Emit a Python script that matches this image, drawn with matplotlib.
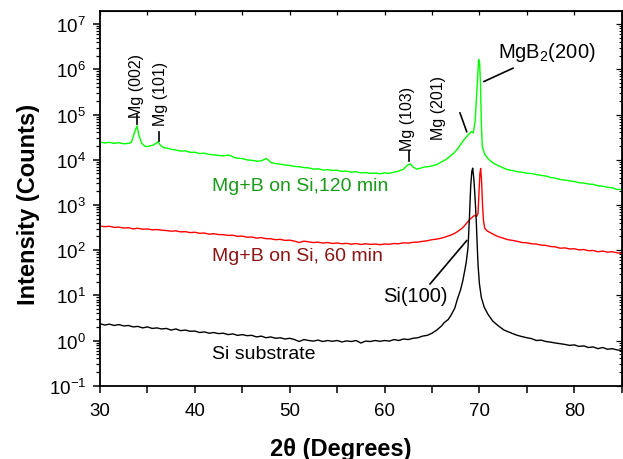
import matplotlib
matplotlib.use("Agg")
import matplotlib.pyplot as plt
from matplotlib import font_manager as fm
from matplotlib.ticker import LogLocator, NullFormatter, MultipleLocator, LogFormatterSciNotation

plt.rcParams['font.family'] = ['Liberation Sans', 'DejaVu Sans']
plt.rcParams['mathtext.default'] = 'regular'

# ---------------- data ----------------
si_x = [30, 30.5, 31, 31.5, 32, 32.5, 33, 33.5, 34, 34.5, 35, 35.5, 36, 36.5, 37, 37.5, 38, 38.5, 39, 39.5,
        40, 40.5, 41, 41.5, 42, 42.5, 43, 43.5, 44, 44.5, 45, 45.5, 46, 46.5, 47, 47.5, 48, 48.5, 49, 49.5,
        50, 50.5, 51, 51.5, 52, 52.5, 53, 53.5, 54, 54.5, 55, 55.5, 56, 56.5, 57, 57.5, 58, 58.5, 59, 59.5,
        60, 60.5, 61, 61.5, 62, 62.5, 63, 63.5, 64, 64.5, 65, 65.5, 66, 66.3, 66.7, 67, 67.4, 67.7, 68, 68.25,
        68.45, 68.6, 68.8, 68.95, 69.08, 69.2, 69.29, 69.4, 69.5, 69.6, 69.68, 69.78, 69.86, 70.0, 70.2, 70.5,
        70.9, 71.4, 72.0, 72.6, 73.4, 74, 74.5, 75, 75.5, 76, 76.5, 77, 77.5, 78, 78.5, 79, 79.5, 80, 80.5,
        81, 81.5, 82, 82.5, 83, 83.5, 84, 84.5, 85]
si_y = [2.35, 2.2, 2.3, 2.15, 2.25, 2.1, 2.15, 2.0, 2.05, 1.9, 2.0, 1.85, 1.9, 1.8, 1.85, 1.7, 1.8, 1.65, 1.7, 1.6,
        1.62, 1.5, 1.55, 1.45, 1.5, 1.42, 1.45, 1.35, 1.4, 1.3, 1.35, 1.28, 1.3, 1.2, 1.25, 1.15, 1.2, 1.12, 1.15, 1.08,
        1.12, 1.05, 0.95, 1.05, 1.0, 0.97, 1.02, 0.95, 1.0, 0.96, 1.0, 0.93, 0.98, 0.95, 1.0, 0.88, 0.97, 0.95, 1.0, 0.96,
        1.0, 0.97, 1.05, 1.0, 1.08, 1.05, 1.12, 1.15, 1.25, 1.3, 1.45, 1.7, 2.1, 2.5, 2.9, 3.6, 5.2, 8.5, 13, 21,
        35, 52, 115, 540, 2600, 5500, 6500, 4000, 2000, 850, 380, 110, 45, 18, 9, 5.5,
        3.8, 2.7, 2.1, 1.7, 1.45, 1.3, 1.22, 1.15, 1.1, 1.0, 1.02, 0.95, 0.92, 0.88, 0.85, 0.82, 0.78, 0.8, 0.74,
        0.76, 0.7, 0.72, 0.66, 0.7, 0.64, 0.66, 0.62, 0.6]

m60_x = [30, 30.5, 31, 31.5, 32, 32.5, 33, 33.5, 34, 34.5, 35, 35.5, 36, 36.5, 37, 37.5, 38, 38.5, 39, 39.5,
         40, 40.5, 41, 41.5, 42, 42.5, 43, 43.5, 44, 44.5, 45, 45.5, 46, 46.5, 47, 47.5, 48, 48.5, 49, 49.5,
         50, 50.5, 51, 51.5, 52, 52.5, 53, 53.5, 54, 54.5, 55, 55.5, 56, 56.5, 57, 57.5, 58, 58.5, 59, 59.5,
         60, 60.5, 61, 61.5, 62, 62.5, 63, 63.5, 64, 64.5, 65, 65.5, 66, 66.5, 67, 67.4, 67.8, 68.1, 68.4, 68.7,
         69.0, 69.25, 69.5, 69.7, 69.85, 69.95, 70.05, 70.13, 70.22, 70.32, 70.42, 70.56, 70.8, 71.2, 71.6, 72.0,
         72.5, 73, 73.5, 74, 74.5, 75, 75.5, 76, 76.5, 77, 77.5, 78, 78.5, 79, 79.5, 80, 80.5, 81, 81.5, 82,
         82.5, 83, 83.5, 84, 84.5, 85]
m60_y = [340, 330, 336, 318, 322, 308, 313, 295, 304, 290, 294, 281, 285, 276, 271, 262, 267, 253, 256, 244,
         248, 235, 239, 225, 230, 221, 219, 212, 213, 202, 204, 193, 195, 184, 189, 179, 178, 170, 173, 164,
         166, 158, 147, 158, 152, 147, 150, 143, 147, 140, 144, 138, 141, 135, 140, 133, 138, 134, 136, 132,
         136, 135, 140, 138, 145, 143, 149, 150, 156, 161, 170, 175, 184, 198, 216, 235, 267, 295, 340, 405,
         480, 535, 590, 555, 640, 1800, 4900, 6400, 3600, 1100, 460, 305, 267, 240, 216, 198,
         184, 170, 164, 156, 147, 145, 138, 136, 129, 127, 120, 118, 110, 112, 106, 107, 101, 103, 97, 98,
         92, 95, 90, 92, 87, 85]

m120_x = [30, 30.5, 31, 31.5, 32, 32.5, 33, 33.3, 33.6, 33.9, 34.1, 34.4, 34.8, 35.2, 35.6, 35.9, 36.1, 36.4, 36.8, 37.2,
          37.6, 38, 38.5, 39, 39.5, 40, 40.5, 41, 41.5, 42, 42.5, 43, 43.5, 43.8, 44.2, 44.5, 45, 45.5, 46, 46.5,
          47, 47.5, 47.8, 48, 48.5, 49, 49.5, 50, 50.5, 51, 51.5, 52, 52.5, 53, 53.5, 54, 54.5, 55, 55.5, 56,
          56.5, 57, 57.5, 58, 58.5, 59, 59.5, 60, 60.5, 61, 61.5, 62, 62.4, 62.7, 63, 63.4, 63.8, 64.2, 64.6, 65,
          65.5, 66, 66.5, 67, 67.4, 67.8, 68.1, 68.4, 68.7, 68.97, 69.15, 69.35, 69.55, 69.7, 69.82, 69.92, 70.02, 70.12,
          70.2, 70.3, 70.56, 70.9, 71.3, 71.6, 72.0, 72.5, 73, 73.5, 74, 74.5, 75, 75.5, 76, 76.5, 77, 77.5,
          78, 78.5, 79, 79.5, 80, 80.5, 81, 81.5, 82, 82.5, 83, 83.5, 84, 84.5, 85]
m120_y = [2.45e4, 2.35e4, 2.42e4, 2.3e4, 2.38e4, 2.25e4, 2.3e4, 2.4e4, 3.8e4, 5.6e4, 3.5e4, 2.3e4, 1.95e4, 2.0e4, 2.1e4, 2.3e4, 2.5e4, 2.05e4, 1.82e4, 1.78e4,
          1.68e4, 1.64e4, 1.55e4, 1.57e4, 1.46e4, 1.46e4, 1.37e4, 1.39e4, 1.31e4, 1.28e4, 1.24e4, 1.22e4, 1.26e4, 1.22e4, 1.11e4, 1.08e4, 1.06e4, 9.9e3, 9.7e3, 9.3e3,
          9.4e3, 1.06e4, 9.7e3, 8.7e3, 8.2e3, 8.0e3, 7.6e3, 7.5e3, 7.1e3, 7.0e3, 6.7e3, 6.6e3, 6.2e3, 6.3e3, 5.9e3, 6.0e3, 5.8e3, 5.85e3, 5.5e3, 5.6e3,
          5.3e3, 5.4e3, 5.1e3, 5.2e3, 5.0e3, 5.05e3, 4.9e3, 5.1e3, 5.0e3, 5.3e3, 5.6e3, 6.2e3, 7.5e3, 8.1e3, 6.9e3, 6.2e3, 6.5e3, 6.9e3, 7.0e3, 7.3e3,
          7.8e3, 8.9e3, 1.02e4, 1.24e4, 1.46e4, 1.85e4, 2.3e4, 2.8e4, 3.35e4, 3.8e4, 4.2e4, 3.9e4, 7e4, 2.6e5, 7.8e5, 1.65e6, 1.4e6, 4.3e5,
          7e4, 1.95e4, 1.32e4, 1.06e4, 8.9e3, 8.1e3, 7.4e3, 6.6e3, 6.0e3, 5.75e3, 5.4e3, 5.3e3, 5.0e3, 4.95e3, 4.7e3, 4.5e3, 4.35e3, 4.05e3,
          3.9e3, 3.65e3, 3.55e3, 3.4e3, 3.3e3, 3.1e3, 3.05e3, 2.9e3, 2.85e3, 2.65e3, 2.6e3, 2.45e3, 2.4e3, 2.2e3, 2.2e3]

series_labels = ["Mg+B on Si,120 min", "Mg+B on Si, 60 min", "Si substrate"]
peak_labels = ["Mg (002)", "Mg (101)", "Mg (103)", "Mg (201)"]
xticks = [30, 40, 50, 60, 70, 80]

# condensed font for the small rotated peak labels, if one is installed
avail = {f.name for f in fm.fontManager.ttflist}
if 'Liberation Sans Narrow' in avail:
    pk_font = dict(family=['Liberation Sans Narrow', 'Liberation Sans'], fontsize=13.5)
else:
    pk_font = dict(family=['Liberation Sans', 'DejaVu Sans'], fontsize=11.5)

# ---------------- figure ----------------
fig = plt.figure(figsize=(6.23, 4.60), dpi=100)
ax = fig.add_axes([100/623, 1-386.7/460, 521.7/623, 374.7/460])

ax.plot(m120_x, m120_y, color='#00ff00', lw=1.0)
ax.plot(m60_x, m60_y, color='#ff0000', lw=1.0)
ax.plot(si_x, si_y, color='black', lw=1.0)

ax.set_yscale('log')
ax.set_xlim(30, 85)
ax.set_ylim(0.1, 1.95e7)

ax.set_xticks(xticks)
ax.xaxis.set_minor_locator(MultipleLocator(5))
ax.yaxis.set_major_locator(LogLocator(base=10, numticks=20))
ax.yaxis.set_major_formatter(LogFormatterSciNotation())
ax.yaxis.set_minor_locator(LogLocator(base=10, subs=range(2, 10), numticks=20))
ax.yaxis.set_minor_formatter(NullFormatter())

ax.tick_params(which='major', direction='out', length=5, width=1.1, labelsize=13.5, pad=5)
ax.tick_params(axis='x', which='major', pad=7)
ax.tick_params(which='minor', direction='out', length=3, width=0.9)
ax.tick_params(axis='x', which='minor', length=5, width=1.1)

for sp in ax.spines.values():
    sp.set_linewidth(1.3)

top = ax.secondary_xaxis('top')
top.set_xticks(xticks)
top.xaxis.set_minor_locator(MultipleLocator(5))
top.tick_params(which='both', direction='in', length=3, width=0.9, labeltop=False)
right = ax.secondary_yaxis('right')
right.yaxis.set_major_locator(LogLocator(base=10, numticks=20))
right.yaxis.set_minor_locator(LogLocator(base=10, subs=range(2, 10), numticks=20))
right.yaxis.set_minor_formatter(NullFormatter())
right.tick_params(which='major', direction='in', length=4, width=0.9, labelright=False)
right.tick_params(which='minor', direction='in', length=2.5, width=0.7, labelright=False)

# axis labels
fig.text(29/623, 1-204/460, 'Intensity (Counts)', rotation=90, ha='center', va='center',
         fontsize=17, fontweight='bold')
fig.text(341/623, 1-450/460, '2θ (Degrees)', ha='center', va='center',
         fontsize=17, fontweight='bold')

# series labels
ax.text(41.8, 10**3.42, series_labels[0], color='#1a9a1a', fontsize=14, ha='left', va='center')
ax.text(41.8, 10**1.89, series_labels[1], color='#8b1515', fontsize=14, ha='left', va='center')
ax.text(41.8, 10**-0.277, series_labels[2], color='black', fontsize=14, ha='left', va='center')

# peak annotations
ax.text(33.9, 10**5.655, peak_labels[0], rotation=90, ha='center', va='center', **pk_font)
ax.plot([33.95, 33.95], [10**4.79, 10**4.99], color='black', lw=1.2)
ax.text(36.4, 10**5.48, peak_labels[1], rotation=90, ha='center', va='center', **pk_font)
ax.plot([36.27, 36.27], [10**4.42, 10**4.61], color='black', lw=1.2)
ax.text(62.47, 10**4.92, peak_labels[2], rotation=90, ha='center', va='center', **pk_font)
ax.plot([62.58, 62.58], [10**3.97, 10**4.19], color='black', lw=1.2)
ax.text(65.64, 10**5.16, peak_labels[3], rotation=90, ha='center', va='center', **pk_font)
ax.plot([67.95, 68.66], [10**5.035, 10**4.62], color='black', lw=1.2)
ax.text(71.96, 10**6.386, 'MgB$_2$(200)', ha='left', va='center', fontsize=14.5)
ax.plot([70.48, 73.54], [10**5.73, 10**6.025], color='black', lw=1.2)
ax.text(63.24, 10**0.99, 'Si(100)', ha='center', va='center', fontsize=14.5)
ax.plot([64.79, 68.66], [10**1.25, 10**2.21], color='black', lw=1.2)

fig.savefig('out.png', dpi=100)
